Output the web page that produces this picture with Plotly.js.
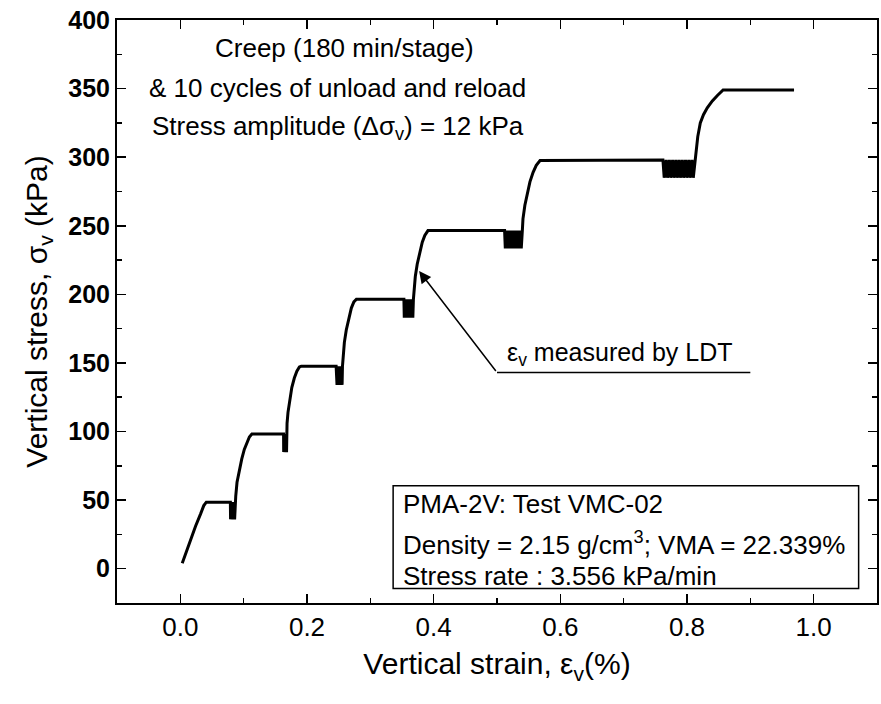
<!DOCTYPE html>
<html>
<head>
<meta charset="utf-8">
<script src="https://cdn.plot.ly/plotly-3.0.1.min.js"></script>
<style>
  html, body { margin: 0; padding: 0; background: #fff; }
  #chart { width: 881px; height: 704px; }
</style>
</head>
<body>
<div id="chart"></div>
<script>
// ---- Monotonic loading paths (strain %, stress kPa) ----
const load1X = [0.003, 0.009, 0.016, 0.024, 0.032, 0.037, 0.041, 0.079];
const load1Y = [4, 12, 22, 31, 40, 46, 48.5, 48.5];
const load2X = [0.0875, 0.0895, 0.093, 0.097, 0.101, 0.105, 0.109, 0.113, 0.163];
const load2Y = [53, 63, 72, 80, 87, 92, 96, 98.2, 98.2];
const load3X = [0.1685, 0.170, 0.173, 0.176, 0.180, 0.184, 0.188, 0.191, 0.246];
const load3Y = [106, 114, 124, 132, 139, 144, 147, 147.6, 147.6];
const load4X = [0.257, 0.259, 0.262, 0.266, 0.270, 0.274, 0.278, 0.353];
const load4Y = [155, 165, 174, 183, 190, 194.5, 196.4, 196.4];
const load5X = [0.369, 0.371, 0.374, 0.378, 0.382, 0.386, 0.391, 0.512];
const load5Y = [205, 213, 222, 231, 238, 243, 246.5, 246.5];
const load6X = [0.541, 0.544, 0.548, 0.552, 0.557, 0.562, 0.568, 0.762];
const load6Y = [255, 265, 274, 282, 289, 294, 297.5, 298];
const load7X = [0.815, 0.817, 0.821, 0.826, 0.832, 0.840, 0.848, 0.857, 0.969];
const load7Y = [308, 315, 325, 331, 336, 341, 345, 349, 349];

// ---- Unload / reload cycles (10 per stage) ----
const cyc1X = [0.0790,0.0793,0.0798,0.0801,0.0806,0.0809,0.0814,0.0817,0.0822,0.0825,0.0830,0.0833,0.0838,0.0841,0.0846,0.0849,0.0854,0.0857,0.0862,0.0865,0.0870];
const cyc1Y = [48.5,36,48.5,36,48.5,36,48.5,36,48.5,36,48.5,36,48.5,36,48.5,36,48.5,36,48.5,36,48.5];
const cyc2X = [0.1630,0.1632,0.1635,0.1637,0.1640,0.1642,0.1645,0.1647,0.1650,0.1652,0.1655,0.1657,0.1660,0.1662,0.1665,0.1667,0.1670,0.1672,0.1675,0.1677,0.1680];
const cyc2Y = [98.2,85,98.2,85,98.2,85,98.2,85,98.2,85,98.2,85,98.2,85,98.2,85,98.2,85,98.2,85,98.2];
const cyc3X = [0.2460,0.2464,0.2470,0.2474,0.2480,0.2484,0.2490,0.2494,0.2500,0.2504,0.2510,0.2514,0.2520,0.2524,0.2530,0.2534,0.2540,0.2544,0.2550,0.2554,0.2560];
const cyc3Y = [147.6,134,147.6,134,147.6,134,147.6,134,147.6,134,147.6,134,147.6,134,147.6,134,147.6,134,147.6,134,147.6];
const cyc4X = [0.3530,0.3536,0.3545,0.3551,0.3560,0.3566,0.3575,0.3581,0.3590,0.3596,0.3605,0.3611,0.3620,0.3626,0.3635,0.3641,0.3650,0.3656,0.3665,0.3671,0.3680];
const cyc4Y = [196.4,183,196.4,183,196.4,183,196.4,183,196.4,183,196.4,183,196.4,183,196.4,183,196.4,183,196.4,183,196.4];
const cyc5X = [0.5120,0.5131,0.5148,0.5159,0.5176,0.5187,0.5204,0.5215,0.5232,0.5243,0.5260,0.5271,0.5288,0.5299,0.5316,0.5327,0.5344,0.5355,0.5372,0.5383,0.5400];
const cyc5Y = [246.5,233.5,246.5,233.5,246.5,233.5,246.5,233.5,246.5,233.5,246.5,233.5,246.5,233.5,246.5,233.5,246.5,233.5,246.5,233.5,246.5];
const cyc6X = [0.7620,0.7640,0.7671,0.7691,0.7722,0.7742,0.7773,0.7793,0.7824,0.7844,0.7875,0.7895,0.7926,0.7946,0.7977,0.7997,0.8028,0.8048,0.8079,0.8099,0.8130];
const cyc6Y = [298,285,298,285,298,285,298,285,298,285,298,285,298,285,298,285,298,285,298,285,298];

// ---- Annotation texts ----
const noteLines = ["Creep (180 min/stage)", "& 10 cycles of unload and reload", "Stress amplitude (Δσ<sub>v</sub>) = 12 kPa"];
const boxLines = ["PMA-2V: Test VMC-02", "Density = 2.15 g/cm<sup>3</sup>; VMA = 22.339%", "Stress rate : 3.556 kPa/min"];
const ldtText = "ε<sub>v</sub> measured by LDT";

const strain = [].concat(load1X, cyc1X, load2X, cyc2X, load3X, cyc3X, load4X, cyc4X, load5X, cyc5X, load6X, cyc6X, load7X);
const stress = [].concat(load1Y, cyc1Y, load2Y, cyc2Y, load3Y, cyc3Y, load4Y, cyc4Y, load5Y, cyc5Y, load6Y, cyc6Y, load7Y);

const FONT = "Liberation Sans, Arial, sans-serif";

const trace = {
  x: strain, y: stress, type: 'scatter', mode: 'lines',
  line: {color: '#000', width: 3}, hoverinfo: 'skip', showlegend: false
};

const noteY = [379.6, 350.5, 321.5];
const noteX = [0.259, 0.248, 0.249];
const boxY = [47.3, 18.5, -5.1];

const annotations = [];
noteLines.forEach((t, i) => annotations.push({
  x: noteX[i], y: noteY[i], xref: 'x', yref: 'y', text: t, showarrow: false,
  xanchor: 'center', yanchor: 'middle', font: {family: FONT, size: 26, color: '#000'}
}));
boxLines.forEach((t, i) => annotations.push({
  x: 0.349, y: boxY[i], xref: 'x', yref: 'y', text: t, showarrow: false,
  xanchor: 'left', yanchor: 'middle', font: {family: FONT, size: 26, color: '#000'}
}));
annotations.push({
  x: 0.513, y: 156.4, xref: 'x', yref: 'y', text: ldtText, showarrow: false,
  xanchor: 'left', yanchor: 'middle', font: {family: FONT, size: 25, color: '#000'}
});
annotations.push({
  x: 0.377, y: 217, xref: 'x', yref: 'y', ax: 0.5, ay: 143, axref: 'x', ayref: 'y',
  text: '', showarrow: true, arrowhead: 2, arrowsize: 1.6, arrowwidth: 1.5, arrowcolor: '#000'
});

const layout = {
  width: 881, height: 704,
  margin: {l: 117, r: 4, t: 20, b: 101},
  paper_bgcolor: '#fff', plot_bgcolor: '#fff',
  font: {family: FONT, color: '#000'},
  showlegend: false,
  xaxis: {
    range: [-0.1, 1.1], dtick: 0.2, tick0: 0, tickformat: '.1f',
    ticks: 'inside', ticklen: 9, tickwidth: 1.5, tickcolor: '#000',
    minor: {dtick: 0.1, ticks: 'inside', ticklen: 5, tickwidth: 1.5, tickcolor: '#000'},
    showline: true, linecolor: '#000', linewidth: 2, mirror: 'ticks',
    showgrid: false, zeroline: false,
    tickfont: {family: FONT, size: 26, color: '#000'},
    title: {text: 'Vertical strain, ε<sub>v</sub>(%)', font: {family: FONT, size: 30, color: '#000'}, standoff: 12}
  },
  yaxis: {
    range: [-25, 400], dtick: 50, tick0: 0,
    ticks: 'inside', ticklen: 9, tickwidth: 1.5, tickcolor: '#000',
    minor: {dtick: 25, ticks: 'inside', ticklen: 5, tickwidth: 1.5, tickcolor: '#000'},
    showline: true, linecolor: '#000', linewidth: 2, mirror: 'ticks',
    showgrid: false, zeroline: false,
    tickfont: {family: FONT, size: 25, color: '#000', weight: 'bold'},
    title: {text: 'Vertical stress, σ<sub>v</sub> (kPa)', font: {family: FONT, size: 30, color: '#000'}, standoff: 12}
  },
  shapes: [
    {type: 'rect', xref: 'x', yref: 'y', x0: 0.336, x1: 1.071, y0: -14.5, y1: 60.4,
     line: {color: '#000', width: 1.5}, fillcolor: 'rgba(0,0,0,0)'},
    {type: 'line', xref: 'x', yref: 'y', x0: 0.5, x1: 0.9, y0: 143, y1: 143,
     line: {color: '#000', width: 1.5}}
  ],
  annotations: annotations
};

Plotly.newPlot('chart', [trace], layout, {displayModeBar: false, staticPlot: true});
</script>
</body>
</html>
